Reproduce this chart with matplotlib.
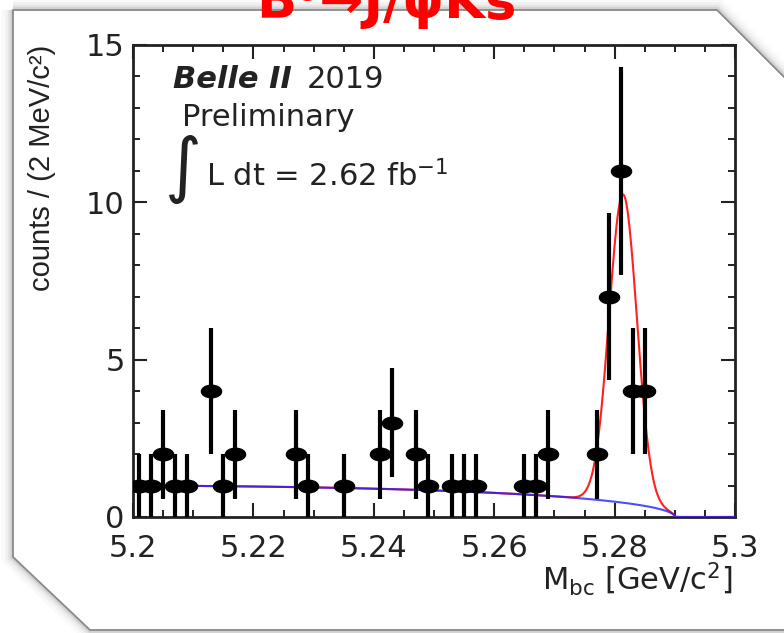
import numpy as np
import matplotlib
matplotlib.use('Agg')
import matplotlib.pyplot as plt
from matplotlib.patches import Polygon
from matplotlib.path import Path
from matplotlib.transforms import Affine2D
from matplotlib.ticker import MultipleLocator

# Mbc histogram, 50 bins of 2 MeV between 5.2 and 5.3 GeV/c^2
bin_lo, bin_hi, n_bins = 5.2, 5.3, 50
counts = [1, 1, 2, 1, 1, 0, 4, 1, 2, 0,
          0, 0, 0, 2, 1, 0, 0, 1, 0, 0,
          2, 3, 0, 2, 1, 0, 1, 1, 1, 0,
          0, 0, 1, 1, 2, 0, 0, 0, 2, 7,
          11, 4, 4, 0, 0, 0, 0, 0, 0, 0]

# fit result: ARGUS background + gaussian signal (counts per bin)
argus_m0 = 5.29
argus_c = -12.0
argus_norm = 1.57
sig_mean = 5.2814
sig_sigma = 0.0023
sig_amp = 9.8

W, H = 784, 633


def px(x, y):
    # pixel position -> figure fraction
    return x / W, 1 - y / H


def argus(m):
    z = 1 - (m / argus_m0) ** 2
    z = np.clip(z, 0, None)
    return argus_norm * m * np.sqrt(z) * np.exp(argus_c * z)


fig = plt.figure(figsize=(W / 100, H / 100), dpi=100)

# slide panel with cut corners and a soft shadow (kept behind the axes)
panel = [px(13, 10), px(717, 10), px(800, 93), px(800, 630), px(90, 630), px(13, 557)]
for lw, a in [(16, 0.025), (11, 0.035), (7, 0.05), (4, 0.08)]:
    fig.patches.append(Polygon(panel, closed=True, fill=False, edgecolor='black', lw=lw,
                               alpha=a, transform=fig.transFigure, joinstyle='miter',
                               zorder=-10))
fig.patches.append(Polygon(panel, closed=True, facecolor='white', edgecolor='#8a8a8a', lw=1.3,
                           transform=fig.transFigure, joinstyle='miter', zorder=-9))

ax = fig.add_axes([133 / W, 1 - 517 / H, 602 / W, 472 / H])
ax.set_facecolor('none')

edges = np.linspace(bin_lo, bin_hi, n_bins + 1)
centers = 0.5 * (edges[:-1] + edges[1:])
y = np.array(counts, dtype=float)
keep = y > 0
x_pts = centers[keep]
y_pts = y[keep]
y_err = np.sqrt(y_pts)
x_err = 0.5 * (edges[1] - edges[0])

# fit curves (drawn over the bottom spine, as in the ROOT plot)
m = np.linspace(bin_lo, bin_hi, 600)
bkg = argus(m)
total = bkg + sig_amp * np.exp(-0.5 * ((m - sig_mean) / sig_sigma) ** 2)
ax.plot(m, total, color='#ff2020', lw=1.5, zorder=2.6)
ax.plot(m, bkg, color='#2020ff', lw=1.5, alpha=0.8, zorder=2.7)

# data points, ellipse shaped markers like the stretched original
ellipse = Path.unit_circle().transformed(Affine2D().scale(1.6, 1.0))
ax.errorbar(x_pts, y_pts, yerr=y_err, fmt='none', ecolor='black', elinewidth=3.0,
            capsize=0, zorder=3)
ax.errorbar(x_pts, y_pts, xerr=x_err, fmt='none', ecolor='black', elinewidth=1.8,
            capsize=0, zorder=3)
ax.plot(x_pts, y_pts, ls='none', marker=ellipse, ms=14.5, color='black', zorder=4)

ax.set_xlim(bin_lo, bin_hi)
ax.set_ylim(0, 15)
ax.xaxis.set_major_locator(MultipleLocator(0.02))
ax.xaxis.set_minor_locator(MultipleLocator(0.005))
ax.yaxis.set_major_locator(MultipleLocator(5))
ax.yaxis.set_minor_locator(MultipleLocator(1))
ax.set_xticks([5.2, 5.22, 5.24, 5.26, 5.28, 5.3], ['5.2', '5.22', '5.24', '5.26', '5.28', '5.3'])
ax.set_yticks([0, 5, 10, 15], ['0', '5', '10', '15'])
ax.tick_params(which='both', direction='in', top=True, right=True, color='#222222',
               labelcolor='#222222', labelsize=22)
ax.tick_params(which='major', length=10, width=1.5)
ax.tick_params(which='minor', length=5, width=1.4)
ax.tick_params(axis='x', pad=12)
ax.tick_params(axis='y', pad=6)
for s in ax.spines.values():
    s.set_linewidth(2.0)
    s.set_color('#222222')

# axis titles
fig.text(*px(733, 590), r'M$_{\rm bc}$ [GeV/c$^{2}$]', ha='right', va='baseline',
         fontsize=22, color='#222222')
fig.text(*px(42, 45), 'counts / (2 MeV/c²)', rotation=90, ha='center', va='top',
         fontsize=21, family='Liberation Sans', color='#222222')

# Belle II labels
fig.text(*px(173, 88), 'Belle II', fontsize=22, fontweight='bold', fontstyle='italic',
         va='baseline', color='#222222')
fig.text(*px(307, 88), '2019', fontsize=22, va='baseline', color='#222222')
fig.text(*px(182, 126), 'Preliminary', fontsize=22, va='baseline', color='#222222')
fig.text(*px(165, 189), '∫', fontsize=51, va='baseline', color='#222222')
fig.text(*px(206, 186), r'L dt = 2.62 fb$^{\mathdefault{-1}}$', fontsize=22, va='baseline',
         color='#222222')

# slide title, partly cut off at the top edge
fig.text(*px(386, 18), 'B⁰→J/ψKs', ha='center', va='baseline', fontsize=38,
         fontweight='bold', color='#ff0000', zorder=10)

fig.savefig('out.png', dpi=100)
